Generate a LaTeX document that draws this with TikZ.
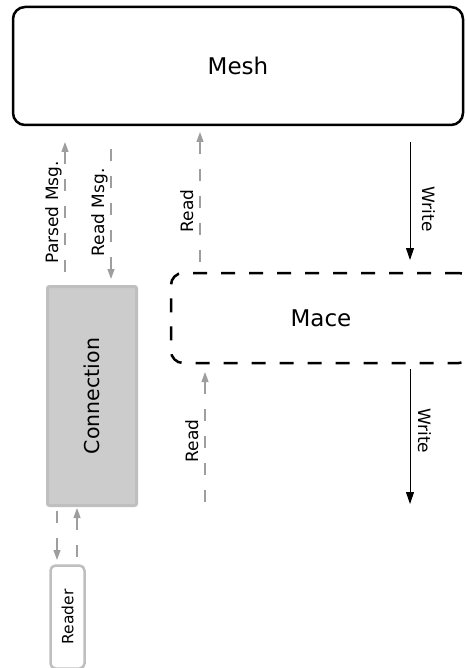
\documentclass[tikz,border=0pt]{standalone}
\usepackage{graphicx}
\usepackage{fontspec}
\setmainfont{DejaVu Sans}
\usetikzlibrary{arrows.meta}

\begin{document}
\begin{tikzpicture}[
    x=1pt, y=-1pt,
    >={Triangle[length=10pt, width=7pt]},
    box/.style={draw, rounded corners=12pt, line width=2.5pt, outer sep=0pt,
                inner sep=0pt, font=\fontsize{23}{28}\selectfont},
    gbox/.style={draw=black!25, line width=3pt, outer sep=0pt, inner sep=0pt},
    gmsg/.style={black!38, line width=1.2pt, dash pattern=on 12pt off 15pt},
    wmsg/.style={black, line width=1pt, >={Triangle[length=12pt, width=8pt]}},
    vlbl/.style={font=\fontsize{17}{20}\selectfont, text=black, rotate=90,
                 anchor=south, inner sep=0pt, text depth=0pt, outer sep=7pt},
    wlbl/.style={font=\fontsize{17}{20}\selectfont, text=black, rotate=-90,
                 anchor=south, inner sep=0pt, text depth=0pt}
  ]
  \useasboundingbox (0,0) rectangle (465,668);

  \node[box, minimum width=450pt, minimum height=118pt] (mesh) at (238,66) {Mesh};
  \node[box, dash pattern=on 14pt off 14pt, minimum width=300pt,
        minimum height=90pt] (mace) at (321,318) {Mace};
  \node[gbox, fill=black!20, rounded corners=2pt, minimum width=89pt,
        minimum height=219pt, font=\fontsize{20.5}{24}\selectfont] (conn) at (92,396)
    {\rotatebox{90}{Connection}};
  \node[gbox, fill=white, line width=2.5pt, rounded corners=5pt, minimum width=34pt,
        minimum height=103pt, font=\fontsize{15.5}{18}\selectfont] (reader) at (67.5,617)
    {\rotatebox{90}{Reader}};

  \coordinate (rdend) at (205,505);
  \coordinate (wrend) at (410,504);

  % Mesh <-> Connection
  \draw[gmsg, <-, shorten <=17pt, shorten >=1.5pt]
    ([xshift=-27pt]conn.north |- mesh.south) -- ([xshift=-27pt]conn.north)
    node[vlbl, pos=0.54] {Parsed Msg.};
  \draw[gmsg, <-, shorten <=7.5pt, shorten >=17pt]
    ([xshift=19pt]conn.north) -- ([xshift=19pt]conn.north |- mesh.south)
    node[vlbl, pos=0.46] {Read Msg.};

  % Mesh <-> Mace
  \draw[gmsg, <-, shorten <=7pt, shorten >=8pt]
    ([xshift=29pt]mace.north west |- mesh.south) -- ([xshift=29pt]mace.north west)
    node[vlbl, pos=0.58] {Read};
  \draw[wmsg, ->, shorten <=17pt, shorten >=13pt]
    ([xshift=239pt]mace.north west |- mesh.south) -- ([xshift=239pt]mace.north west)
    node[wlbl, outer sep=12pt, pos=0.57] {Write};

  % below Mace
  \draw[gmsg, <-, shorten <=9pt]
    ([xshift=34pt]mace.south west) -- (rdend)
    node[vlbl, pos=0.55] {Read};
  \draw[wmsg, ->, shorten <=6pt]
    ([xshift=239pt]mace.south west) -- (wrend)
    node[wlbl, outer sep=8pt, pos=0.48] {Write};

  % Connection <-> Reader
  \draw[gmsg, <-, shorten <=5.5pt, shorten >=3.5pt]
    ([xshift=-35pt]conn.south |- reader.north) -- ([xshift=-35pt]conn.south);
  \draw[gmsg, <-, shorten <=2.5pt, shorten >=5.5pt]
    ([xshift=-15pt]conn.south) -- ([xshift=-15pt]conn.south |- reader.north);
\end{tikzpicture}
\end{document}
